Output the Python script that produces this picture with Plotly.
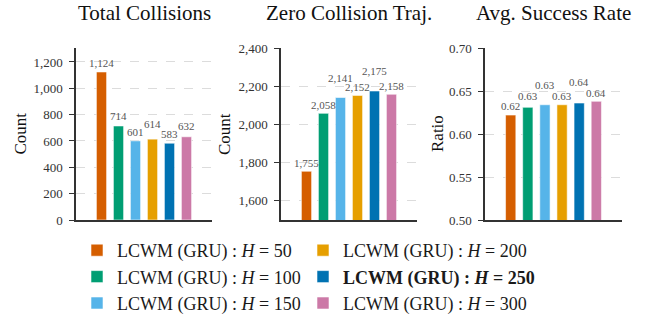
import plotly.graph_objects as go

# ---------------- data ----------------
horizons = [50, 100, 150, 200, 250, 300]
best_horizon = 250
total_collisions = [1124, 714, 601, 614, 583, 632]
zero_collision_traj = [1755, 2058, 2141, 2152, 2175, 2158]
avg_success_rate = [0.622, 0.631, 0.634, 0.634, 0.636, 0.638]
panel_titles = ["Total Collisions", "Zero Collision Traj.", "Avg. Success Rate"]
y_titles = ["Count", "Count", "Ratio"]
legend_columns = [[50, 100, 150], [200, 250, 300]]

panels = [total_collisions, zero_collision_traj, avg_success_rate]

# ---------------- styles / layout ----------------
colors = ["#D55E00", "#009E73", "#56B4E9", "#E69F00", "#0072B2", "#CC79A7"]
W, H = 658, 318
FONT = "'Liberation Serif', 'Times New Roman', 'DejaVu Serif', serif"
x_domains_px = [(76, 212), (281, 417), (485, 622)]
y_domain_px = (48, 220)
y_ranges = [[0, 1306], [1500, 2400], [0.5, 0.7]]
y_dticks = [200, 200, 0.05]
y_tick0 = [0, 1600, 0.5]
tick_formats = [",d", ",d", ".2f"]
label_offsets = [
    [8.5, 10, 8.5, 15.5, 9, 10.5],
    [8, 8, 19.5, 8, 19.5, 8.5],
    [9.5, 11, 20, 8.5, 21.5, 8.5],
]
ytitle_x_px = [19.5, 224, 437]
legend_x_px = [77, 303]
legend_top_px = 232


def px_x(v):
    return v / W


def px_y(v):
    return (H - v) / H


def fmt(p, v):
    return f"{v:.2f}" if p == 2 else f"{v:,}"


fig = go.Figure()

for i, h in enumerate(horizons):
    name = f"LCWM (GRU) : <i>H</i> = {h}"
    if h == best_horizon:
        name = f"<b>{name}</b>"
    col = 0 if h in legend_columns[0] else 1
    for p in range(3):
        sfx = "" if p == 0 else str(p + 1)
        fig.add_trace(go.Bar(
            x=[i], y=[panels[p][i]],
            xaxis="x" + sfx, yaxis="y" + sfx,
            width=0.6,
            marker=dict(color=colors[i], line=dict(color="rgba(255,255,255,0.7)", width=0.8)),
            name=name, legendgroup=str(h), showlegend=(p == 0),
            legend="legend" if col == 0 else "legend2",
            hoverinfo="skip",
        ))

annotations = []
for p in range(3):
    sfx = "" if p == 0 else str(p + 1)
    for i, v in enumerate(panels[p]):
        annotations.append(dict(
            x=i, y=v, xref="x" + sfx, yref="y" + sfx,
            text=fmt(p, v), showarrow=False, yanchor="middle",
            yshift=label_offsets[p][i],
            font=dict(family=FONT, size=11, color="#555555"),
        ))
    x0, x1 = x_domains_px[p]
    annotations.append(dict(
        x=px_x((x0 + x1) / 2), y=px_y(13), xref="paper", yref="paper",
        text=panel_titles[p], showarrow=False, xanchor="center", yanchor="middle",
        font=dict(family=FONT, size=21, color="#111111"),
    ))
    annotations.append(dict(
        x=px_x(ytitle_x_px[p]), y=px_y((y_domain_px[0] + y_domain_px[1]) / 2),
        xref="paper", yref="paper", text=y_titles[p], textangle=-90,
        showarrow=False, xanchor="center", yanchor="middle",
        font=dict(family=FONT, size=17, color="#111111"),
    ))

legend_common = dict(
    orientation="v", xanchor="left", yanchor="top",
    font=dict(family=FONT, size=18, color="#1a1a1a"),
    bgcolor="rgba(0,0,0,0)", itemwidth=30, traceorder="normal",
    tracegroupgap=0, borderwidth=0,
)

layout = dict(
    width=W, height=H,
    margin=dict(l=0, r=0, t=0, b=0, autoexpand=False),
    paper_bgcolor="white", plot_bgcolor="white",
    barmode="overlay",
    font=dict(family=FONT, color="#333333"),
    showlegend=True,
    legend=dict(x=px_x(legend_x_px[0]), y=px_y(legend_top_px), **legend_common),
    legend2=dict(x=px_x(legend_x_px[1]), y=px_y(legend_top_px), **legend_common),
    annotations=annotations,
)

for p in range(3):
    sfx = "" if p == 0 else str(p + 1)
    x0, x1 = x_domains_px[p]
    layout["xaxis" + sfx] = dict(
        domain=[px_x(x0), px_x(x1)], range=[-1.5, 6.5],
        showticklabels=False, ticks="", showgrid=False, zeroline=False,
        showline=True, linecolor="#333333", linewidth=1.5,
        anchor="y" + sfx, fixedrange=True,
    )
    layout["yaxis" + sfx] = dict(
        domain=[px_y(y_domain_px[1]), px_y(y_domain_px[0])],
        range=y_ranges[p], tick0=y_tick0[p], dtick=y_dticks[p],
        tickformat=tick_formats[p],
        ticks="outside", ticklen=5, tickwidth=1.2, tickcolor="#333333",
        ticklabelstandoff=4,
        tickfont=dict(family=FONT, size=13, color="#333333"),
        showline=True, linecolor="#333333", linewidth=1.5,
        showgrid=True, gridcolor="#dcdcdc", griddash="dash", gridwidth=0.8,
        zeroline=False, anchor="x" + sfx, fixedrange=True,
    )

fig.update_layout(**layout)
fig.write_html(
    "out.html",
    config={"displayModeBar": False},
    post_script="document.body.style.margin='0';document.body.style.overflow='hidden';",
)
